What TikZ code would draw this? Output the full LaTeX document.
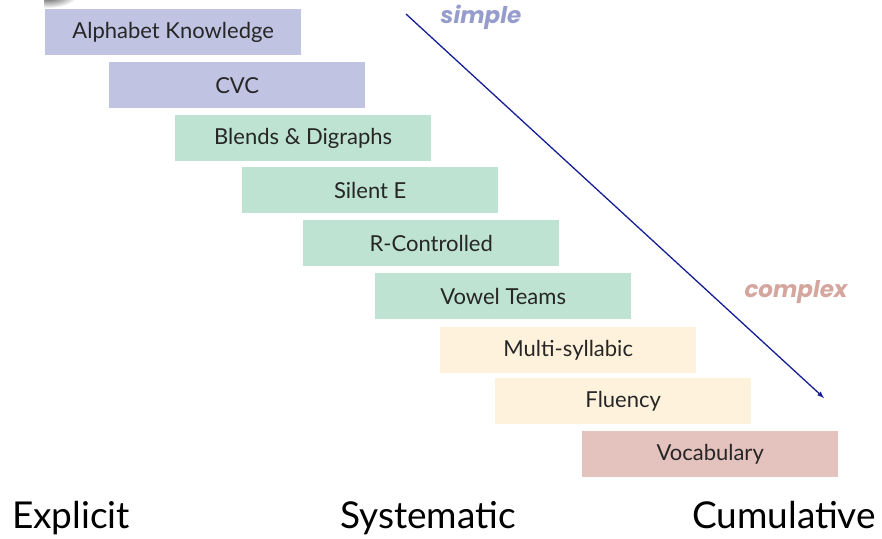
\documentclass[tikz,border=0pt]{standalone}
\usepackage{fontspec}
\setmainfont{Lato}
\newfontfamily\trendfont{Poppins}
\usetikzlibrary{arrows}

\definecolor{lavender}{RGB}{192,196,226}
\definecolor{mint}{RGB}{190,227,210}
\definecolor{cream}{RGB}{255,242,220}
\definecolor{rose}{RGB}{228,194,190}
\definecolor{navy}{RGB}{20,30,150}
\definecolor{simplecol}{RGB}{150,156,204}
\definecolor{complexcol}{RGB}{212,166,158}

\begin{document}
\begin{tikzpicture}[x=1pt, y=-1pt,
		level/.style={anchor=north west, minimum width=256pt, minimum height=46pt, inner sep=0pt,
			text=black!85, font=\fontsize{22}{22}\selectfont},
		pace/.style={font=\fontsize{37}{37}\selectfont, text=black, anchor=base},
		trend/.style={font=\trendfont\bfseries\itshape\fontsize{23}{23}\selectfont}]
		\useasboundingbox (0,0) rectangle (882,538);
		% shadow in the corner
		\shade[inner color=black!80, outer color=white] (48,-6) ellipse (30 and 14);
		\fill[white] (0,0) rectangle (44,20);
		% the steps
		\foreach \name/\x/\y/\col/\txt in {
			alpha/45/9/lavender/Alphabet Knowledge,
			cvc/109/62/lavender/CVC,
			blends/175/115/mint/Blends \& Digraphs,
			silent/242/167/mint/Silent E,
			rctrl/303/220/mint/R-Controlled,
			vowel/375/273/mint/Vowel Teams,
			multi/440/327/cream/Multi-syllabic,
			fluency/495/378/cream/Fluency,
			vocab/582/431/rose/Vocabulary} {
			\node[level, fill=\col] (\name) at (\x,\y) {\txt};
		}
		% simple to complex
		\coordinate (top) at (406,14);
		\coordinate (bottom) at (824,398);
		\draw[navy, line width=1.3pt, -latex] (top) -- (bottom);
		\node[trend, text=simplecol] (simple) at (481,17) {simple};
		\node[trend, text=complexcol] (complex) at (796,292) {complex};
		% principles
		\node[pace] (explicit) at (71,528) {Explicit};
		\node[pace] (systematic) at (428,528) {Systematic};
		\node[pace] (cumulative) at (784,528) {Cumulative};
	\end{tikzpicture}
\end{document}
